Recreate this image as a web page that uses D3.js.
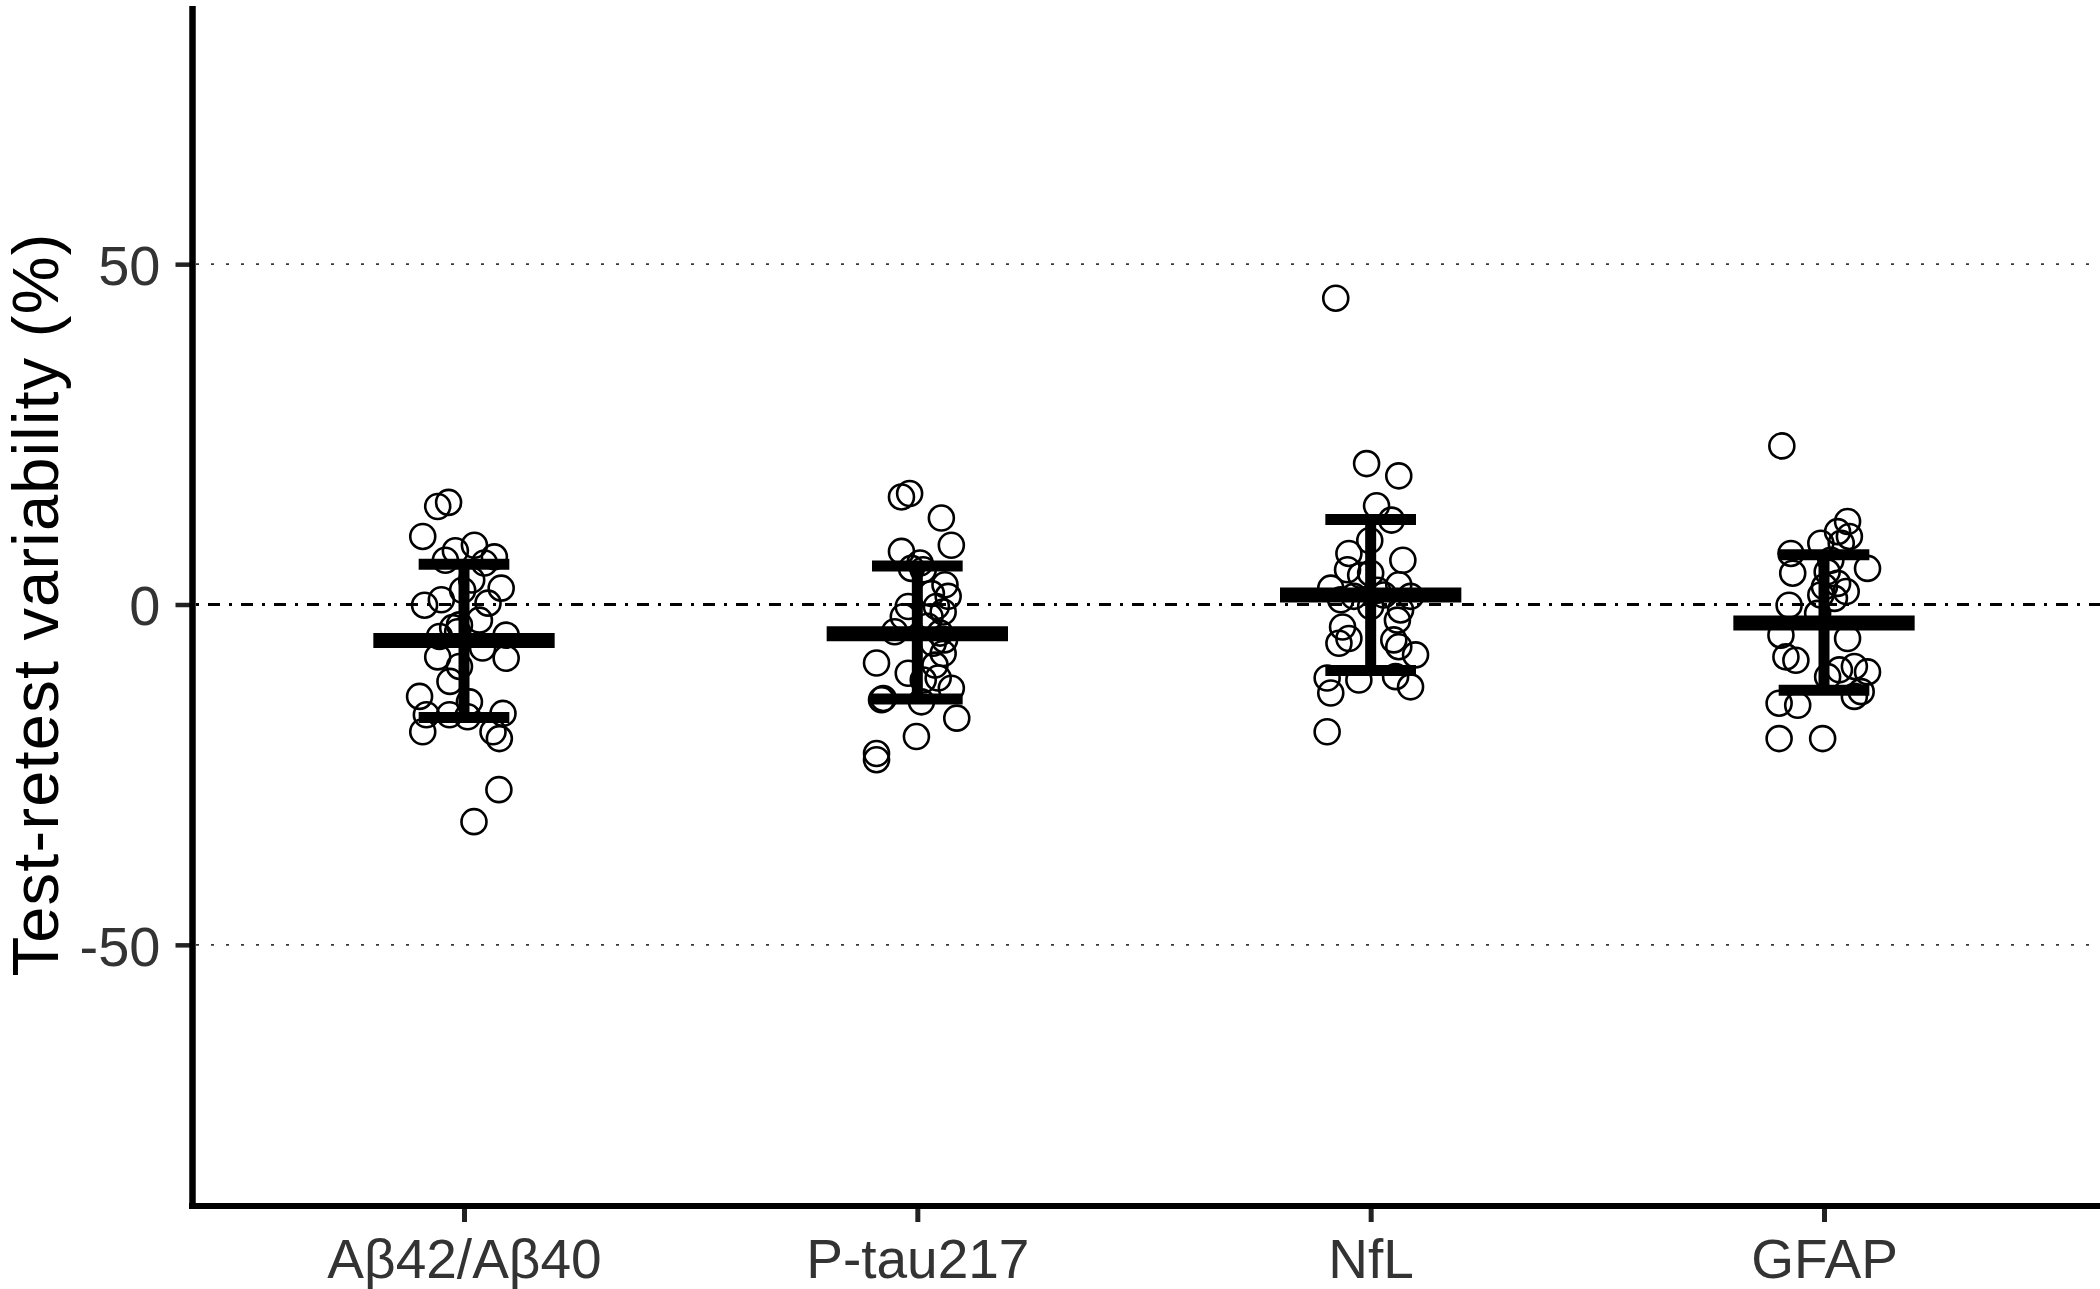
<!DOCTYPE html>
<html>
<head>
<meta charset="utf-8">
<script src="https://cdn.jsdelivr.net/npm/d3@7"></script>
<style>
  html, body { margin: 0; padding: 0; background: #fff; }
  svg { display: block; }
  text { font-family: "Liberation Sans", Arial, Helvetica, sans-serif; }
</style>
</head>
<body>
<svg id="chart" width="2100" height="1289"></svg>
<script>
// ---------------- data ----------------
const categories = ["Aβ42/Aβ40", "P-tau217", "NfL", "GFAP"];

const yTicks = [-50, 0, 50];
const yTickLabels = ["-50", "0", "50"];

// summary statistics (mean, mean ± SD)
const meanValues  = [-5.3, -4.3, 1.4, -2.7];
const upperValues = [5.9, 5.65, 12.5, 7.3];
const lowerValues = [-16.6, -13.9, -9.7, -12.6];

// individual participants: test-retest variability (%)
const abValues = [14.4, 15.0, 10.0, 7.9, 8.7, 6.5, 7.0, 6.1, 2.4, 2.1, -0.1, 0.7, 0.2, -3.0, -2.3,
  -4.7, -4.5, -7.7, -6.4, -7.9, -9.1, -11.3, -13.5, -14.3, -16.2, -16.2, -16.5, -16.0, -18.7,
  -18.7, -19.7, -27.2, -31.9, -4.0, 3.6, -3.4];
const abJitter = [-0.058, -0.034, -0.091, -0.019, 0.023, -0.041, 0.067, 0.045, 0.082, -0.003, -0.087,
  -0.05, 0.053, -0.01, 0.034, -0.054, 0.093, -0.058, 0.041, 0.093, -0.01, -0.031, -0.098, 0.012,
  -0.083, -0.032, 0.008, 0.086, -0.091, 0.064, 0.078, 0.077, 0.022, -0.014, 0.017, -0.025];

const ptauValues = [15.8, 16.3, 12.7, 8.7, 7.8, 5.3, 5.1, 2.9, 1.2, -0.3, -0.3, -1.1, -1.8, -4.0, -4.2,
  -5.7, -7.2, -8.6, -10.1, -8.9, -10.8, -11.1, -12.3, -13.8, -14.0, -14.3, -16.7, -19.4, -21.9,
  -22.8, 6.1, 1.6, -1.8, -3.2, -5.2];
const ptauJitter = [-0.035, -0.017, 0.053, 0.075, -0.035, -0.013, 0.013, 0.061, 0.068, -0.02, 0.042,
  0.057, 0.028, -0.05, 0.05, 0.035, 0.057, -0.09, -0.02, 0.039, 0.046, 0.013, 0.075, -0.075, -0.079,
  0.009, 0.087, -0.002, -0.09, -0.09, 0.006, 0.031, -0.031, 0.023, 0.06];

const nflValues = [45.0, 20.7, 18.9, 14.5, 12.4, 9.4, 6.5, 7.5, 5.1, 4.3, 4.6, 2.4, 2.9, 0.7, 1.2,
  1.4, -0.3, -0.8, -3.3, -2.3, -5.0, -5.7, -5.2, -6.2, -7.4, -10.8, -11.1, -10.6, -12.1, -13.0,
  -18.7, 1.2, 2.1];
const nflJitter = [-0.077, -0.009, 0.062, 0.013, 0.046, -0.002, 0.071, -0.048, -0.051, -0.022, 0.0,
  -0.088, 0.062, -0.066, -0.037, 0.029, 0.0, 0.066, -0.062, 0.059, -0.048, -0.07, 0.051, 0.062,
  0.099, -0.096, -0.026, 0.055, 0.088, -0.088, -0.096, 0.088, 0.015];

const gfapValues = [23.3, 12.2, 10.7, 10.0, 9.0, 9.0, 7.5, 5.3, 4.6, 2.6, 3.1, 1.4, 1.9, 0.9, -0.1,
  -1.3, -4.5, -5.0, -7.7, -8.2, -10.6, -9.6, -9.1, -9.9, -12.8, -13.5, -14.5, -14.8, -19.7, -19.7,
  4.8, 6.5];
const gfapJitter = [-0.093, 0.052, 0.03, 0.056, -0.007, 0.038, -0.073, 0.096, -0.069, 0.001, 0.03,
  -0.007, 0.049, 0.023, -0.077, -0.014, -0.095, 0.052, -0.084, -0.062, 0.008, 0.034, 0.067, 0.096,
  0.082, 0.067, -0.099, -0.058, -0.099, -0.003, 0.007, 0.015];

const seriesValues = [abValues, ptauValues, nflValues, gfapValues];
const seriesJitter = [abJitter, ptauJitter, nflJitter, gfapJitter];

// ---------------- chart ----------------
const svg = d3.select("#chart");

const x = d3.scaleLinear().domain([-0.6, categories.length - 1 + 0.6]).range([192, 2096]);
const y = d3.scaleLinear().domain([-88, 88]).range([1203.5, 5.5]);

const panelLeft = 196, panelRight = 2100;

// reference lines
svg.append("g").selectAll("line.ref")
  .data([50, -50])
  .join("line")
  .attr("x1", panelLeft).attr("x2", panelRight)
  .attr("y1", d => y(d)).attr("y2", d => y(d))
  .attr("stroke", "#3a3a3a").attr("stroke-width", 1.8)
  .attr("stroke-dasharray", "3,12");

svg.append("line")
  .attr("x1", panelLeft).attr("x2", panelRight)
  .attr("y1", y(0)).attr("y2", y(0))
  .attr("stroke", "#000").attr("stroke-width", 3)
  .attr("stroke-dasharray", "3,9,12,9");

// points
const points = [];
seriesValues.forEach((vals, i) => {
  vals.forEach((v, k) => points.push({ cat: i, v: v, j: seriesJitter[i][k] }));
});
svg.append("g").selectAll("circle")
  .data(points)
  .join("circle")
  .attr("cx", d => x(d.cat + d.j))
  .attr("cy", d => y(d.v))
  .attr("r", 12.5)
  .attr("fill", "none")
  .attr("stroke", "#000")
  .attr("stroke-width", 2.6);

// error bars
const summary = categories.map((c, i) => ({ i, mean: meanValues[i], hi: upperValues[i], lo: lowerValues[i] }));
const eb = svg.append("g");
eb.selectAll("line.vert").data(summary).join("line")
  .attr("x1", d => x(d.i)).attr("x2", d => x(d.i))
  .attr("y1", d => y(d.hi)).attr("y2", d => y(d.lo))
  .attr("stroke", "#000").attr("stroke-width", 11);
eb.selectAll("line.capHi").data(summary).join("line")
  .attr("x1", d => x(d.i - 0.1)).attr("x2", d => x(d.i + 0.1))
  .attr("y1", d => y(d.hi)).attr("y2", d => y(d.hi))
  .attr("stroke", "#000").attr("stroke-width", 11);
eb.selectAll("line.capLo").data(summary).join("line")
  .attr("x1", d => x(d.i - 0.1)).attr("x2", d => x(d.i + 0.1))
  .attr("y1", d => y(d.lo)).attr("y2", d => y(d.lo))
  .attr("stroke", "#000").attr("stroke-width", 11);
eb.selectAll("line.mean").data(summary).join("line")
  .attr("x1", d => x(d.i - 0.2)).attr("x2", d => x(d.i + 0.2))
  .attr("y1", d => y(d.mean)).attr("y2", d => y(d.mean))
  .attr("stroke", "#000").attr("stroke-width", 15);

// y axis
const yAxis = d3.axisLeft(y)
  .tickValues(yTicks)
  .tickFormat((d, i) => yTickLabels[i])
  .tickSize(17)
  .tickPadding(15);
const gy = svg.append("g").attr("transform", "translate(192.5,0)").call(yAxis);
gy.select(".domain").remove();
gy.selectAll(".tick line").attr("stroke", "#222").attr("stroke-width", 4.5);
gy.selectAll(".tick text").attr("fill", "#333").style("font-size", "56px")
  .attr("dy", "0.36em");

// x axis
const xAxis = d3.axisBottom(x)
  .tickValues(d3.range(categories.length))
  .tickFormat(i => categories[i])
  .tickSize(16)
  .tickPadding(14);
const gx = svg.append("g").attr("transform", "translate(0,1206)").call(xAxis);
gx.select(".domain").remove();
gx.selectAll(".tick line").attr("stroke", "#222").attr("stroke-width", 5);
gx.selectAll(".tick text").attr("fill", "#333").style("font-size", "55px")
  .attr("dy", "0.76em");

// axis lines
svg.append("line").attr("x1", 192.5).attr("x2", 192.5).attr("y1", 6).attr("y2", 1209)
  .attr("stroke", "#000").attr("stroke-width", 6.5);
svg.append("line").attr("x1", 189).attr("x2", 2100).attr("y1", 1206).attr("y2", 1206)
  .attr("stroke", "#000").attr("stroke-width", 6);

// y title
svg.append("text")
  .attr("transform", `translate(58,${(y(88) + y(-88)) / 2}) rotate(-90)`)
  .attr("text-anchor", "middle")
  .attr("fill", "#000")
  .style("font-size", "65px")
  .style("letter-spacing", "1.2px")
  .text("Test-retest variability (%)");
</script>
</body>
</html>
